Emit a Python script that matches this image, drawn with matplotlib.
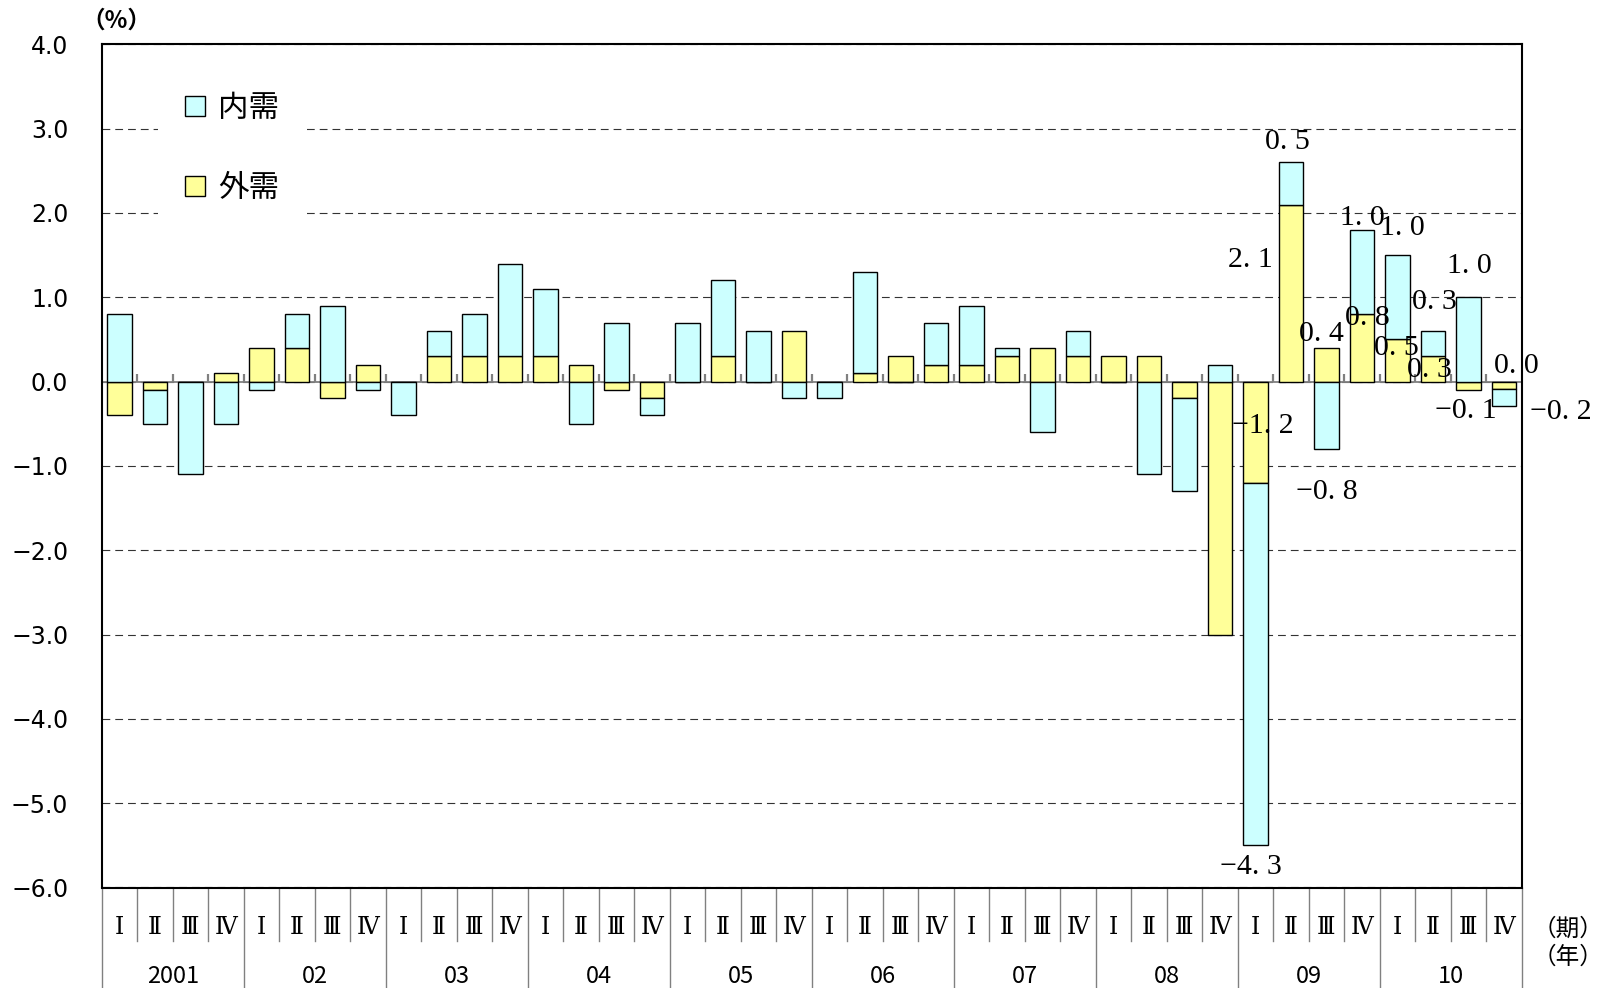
import matplotlib
matplotlib.use('Agg')
import matplotlib.pyplot as plt
from matplotlib.patches import Patch
import numpy as np

plt.rcParams['font.family'] = ['Noto Sans CJK JP', 'DejaVu Sans']

years = ['2001', '02', '03', '04', '05', '06', '07', '08', '09', '10']
quarters = ['Ⅰ', 'Ⅱ', 'Ⅲ', 'Ⅳ']

# 内需 contribution, 2001 I .. 2010 IV
naiju = [0.8, -0.4, -1.1, -0.5,
         -0.1, 0.4, 0.9, -0.1,
         -0.4, 0.3, 0.5, 1.1,
         0.8, -0.5, 0.7, -0.2,
         0.7, 0.9, 0.6, -0.2,
         -0.2, 1.2, 0.0, 0.5,
         0.7, 0.1, -0.6, 0.3,
         0.0, -1.1, -1.1, 0.2,
         -4.3, 0.5, -0.8, 1.0,
         1.0, 0.3, 1.0, -0.2]
# 外需 contribution
gaiju = [-0.4, -0.1, 0.0, 0.1,
         0.4, 0.4, -0.2, 0.2,
         0.0, 0.3, 0.3, 0.3,
         0.3, 0.2, -0.1, -0.2,
         0.0, 0.3, 0.0, 0.6,
         0.0, 0.1, 0.3, 0.2,
         0.2, 0.3, 0.4, 0.3,
         0.3, 0.3, -0.2, -3.0,
         -1.2, 2.1, 0.4, 0.8,
         0.5, 0.3, -0.1, -0.09]

# data labels on the last eight quarters (2009 I .. 2010 IV)
lab_start = 32
gaiju_labels = ['−1. 2', '2. 1', '0. 4', '0. 8', '0. 5', '0. 3', '−0. 1', '0. 0']
naiju_labels = ['−4. 3', '0. 5', '−0. 8', '1. 0', '1. 0', '0. 3', '1. 0', '−0. 2']
# label offsets from segment centre, in pixels (right, down)
gaiju_off = [(7.5, -6), (-41, -32.6), (-5.5, -30.4), (5, -29.5),
             (-1.5, -12), (-4, 1.4), (-2.5, 25.5), (12, -19)]
naiju_off = [(-4.5, 202.6), (-4, -41.7), (0.5, 77), (0, -53.5),
             (4.5, -68.8), (1, -41.3), (0.5, -73), (57, 14.6)]

c_nai = '#CCFFFF'
c_gai = '#FFFF99'

gai = np.array(gaiju)
nai = np.array(naiju)
n = len(nai)
x = np.arange(n) + 0.5
# stack like excel: positives on positives, negatives on negatives
base = np.where(np.sign(nai) == np.sign(gai), gai, 0.0)

fig = plt.figure(figsize=(16.08, 9.88), dpi=100)
ax = fig.add_axes([101.7 / 1608, 1 - 887.5 / 988, 1420 / 1608, 843.2 / 988])

ax.set_xlim(0, n)
ax.set_ylim(-6, 4)
ax.set_axisbelow(True)
ax.grid(axis='y', color='#333333', lw=0.8, linestyle=(0, (7, 4.5)))
ax.axhline(0, color='#808080', lw=1.3, zorder=1.5)
ax.vlines(np.arange(1, n), 0, 0.095, color='#808080', lw=1.6, zorder=1.5)

ax.bar(x, gai, width=0.68, color=c_gai, edgecolor='black', lw=1.0, zorder=2)
ax.bar(x, nai, width=0.68, bottom=base, color=c_nai, edgecolor='black', lw=1.0, zorder=2)

for k in range(len(gaiju_labels)):
    i = lab_start + k
    ym = gai[i] / 2
    dx, dy = gaiju_off[k]
    ax.annotate(gaiju_labels[k], (x[i], ym), xytext=(dx * 0.72, -dy * 0.72),
                textcoords='offset points', ha='center', va='center',
                family='Liberation Serif', fontsize=21.5, zorder=5)
    ym = base[i] + nai[i] / 2
    dx, dy = naiju_off[k]
    ax.annotate(naiju_labels[k], (x[i], ym), xytext=(dx * 0.72, -dy * 0.72),
                textcoords='offset points', ha='center', va='center',
                family='Liberation Serif', fontsize=21.5, zorder=5)

ax.set_xticks([])
yt = np.arange(-6, 4.01, 1)
ax.set_yticks(yt)
ax.set_yticklabels([f'{v:.1f}'.replace('-', '−') for v in yt],
                   family='DejaVu Sans', fontsize=17)
ax.tick_params(axis='y', length=0, pad=24)
for s in ax.spines.values():
    s.set_linewidth(1.5)

# category table under the plot
tr = ax.get_xaxis_transform()
bounds = np.arange(0, n + 1)
for b in bounds:
    low = -0.125 if b % 4 == 0 else -0.0634
    ax.plot([b, b], [0, low], color='#808080', lw=1.0, transform=tr, clip_on=False)
for i in range(n):
    ax.text(x[i], -0.048, quarters[i % 4], transform=tr, ha='center', va='center',
            family=['DejaVu Serif', 'Noto Sans CJK JP'], fontsize=17)
for j, yr in enumerate(years):
    ax.text(4 * j + 2, -0.105, yr, transform=tr, ha='center', va='center', fontsize=17)

fig.text(1568 / 1608, 1 - 929 / 988, '（期）', ha='center', va='center', fontsize=17)
fig.text(1568 / 1608, 1 - 957 / 988, '（年）', ha='center', va='center', fontsize=17)
fig.text(116.7 / 1608, 1 - 21 / 988, '（%）', ha='center', va='center', fontsize=17,
         weight='bold')

handles = [Patch(facecolor=c_nai, edgecolor='black', lw=1.0),
           Patch(facecolor=c_gai, edgecolor='black', lw=1.0)]
leg = ax.legend(handles, ['内需', '外需'], loc='upper left',
                bbox_to_anchor=(158 / 1608, 1 - 65 / 988), bbox_transform=fig.transFigure,
                frameon=True, fancybox=False, facecolor='white', edgecolor='none',
                framealpha=1, prop={'family': ['Noto Sans CJK JP', 'DejaVu Sans'], 'size': 22},
                handlelength=0.65, handleheight=0.65, handletextpad=0.42,
                labelspacing=1.61, borderpad=0.9, borderaxespad=0)
leg.set_zorder(4)

fig.savefig('out.png', dpi=100)
